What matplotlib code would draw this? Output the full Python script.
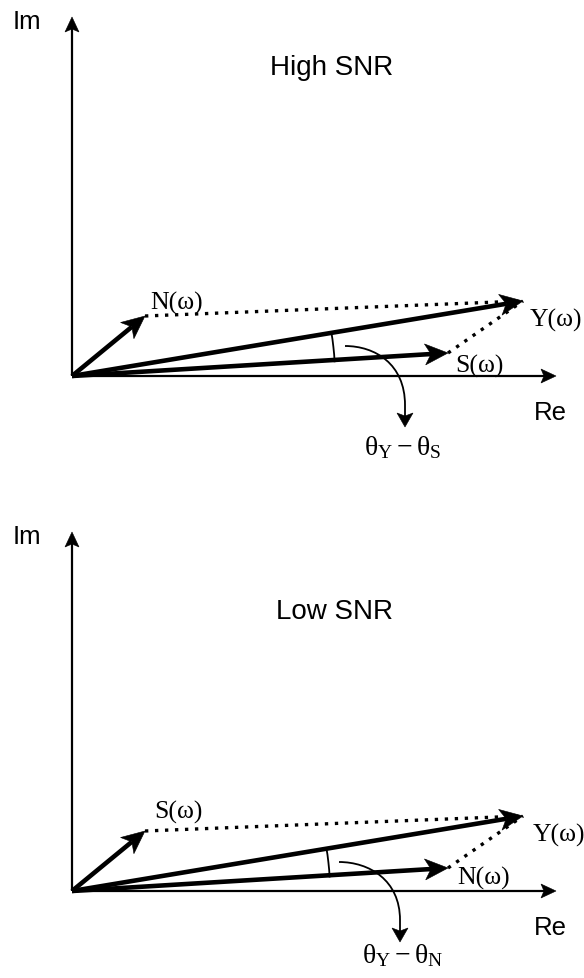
import numpy as np
import matplotlib
matplotlib.use('Agg')
import matplotlib.pyplot as plt
from matplotlib.patches import Polygon, Arc, PathPatch
from matplotlib.path import Path

plt.rcParams['mathtext.fontset'] = 'custom'
plt.rcParams['mathtext.rm'] = 'Liberation Serif'
plt.rcParams['mathtext.it'] = 'Liberation Serif'

# text of the two panels (top: high SNR, bottom: low SNR)
panel_titles = ['High SNR', 'Low SNR']
short_labels = ['N(ω)', 'S(ω)']
long_labels = ['S(ω)', 'N(ω)']
sum_label = 'Y(ω)'
angle_labels = [r'$\theta_Y - \theta_S$', r'$\theta_Y - \theta_N$']

# phasors (Re, Im), same in both panels
short_vec = [73, 60]
long_vec = [376, 23]
sum_vec = [451, 75]

# layout (pixels, y up), one entry per panel
origins = [(72, 602), (72, 87)]
re_len, im_len = 484, 359
title_pos = [(260, 309), (263, 280)]
short_label_pos = [(105, 74), (106, 80)]
long_label_pos = [(407, 11), (412, 14)]
sum_label_pos = [(484, 57), (487, 57)]
angle_label_pos = [(331, -70), (331, -63)]
curve_start = [(273, 30), (267, 29)]
curve_tip = [(333, -51), (328, -51)]
arc_radius = [263, 258]

sans = 'Liberation Sans'
serif = 'Liberation Serif'


def stealth(ax, tip, ang, length, hw, notch, z):
    u = np.array([np.cos(ang), np.sin(ang)])
    p = np.array([-u[1], u[0]])
    tip = np.asarray(tip, float)
    back = tip - length * u
    pts = [tip, back + hw * p, tip - (length - notch) * u, back - hw * p]
    ax.add_patch(Polygon(pts, closed=True, fc='black', ec='black', lw=0.4, zorder=z))
    return tip - (length - notch) * u


def vector(ax, start, end, lw, length, hw, notch, z=3):
    ang = np.arctan2(end[1] - start[1], end[0] - start[0])
    base = stealth(ax, end, ang, length, hw, notch, z)
    ax.plot([start[0], base[0]], [start[1], base[1]], color='black', lw=lw,
            solid_capstyle='butt', zorder=z)


fig = plt.figure(figsize=(5.84, 9.79), dpi=100)
ax = fig.add_axes([0, 0, 1, 1])
ax.set_xlim(0, 584)
ax.set_ylim(0, 979)
ax.set_axis_off()

for i in range(2):
    ox, oy = origins[i]

    def P(v):
        return (ox + v[0], oy + v[1])

    # axes
    vector(ax, (ox, oy), (ox + re_len, oy), 1.6, 15, 7, 3, z=2)
    vector(ax, (ox, oy), (ox, oy + im_len), 1.6, 15, 7, 3, z=2)
    ax.text(ox - 45, oy + im_len - 4, 'Im', fontsize=18.5, family=sans, ha='center', va='center')
    ax.text(*P((478, -36)), 'Re', fontsize=18.5, family=sans, ha='center', va='center')
    ax.text(*P(title_pos[i]), panel_titles[i], fontsize=20, family=sans, ha='center', va='center')

    # dotted completion lines
    for v in (short_vec, long_vec):
        a, b = P(v), P(sum_vec)
        ax.plot([a[0], b[0]], [a[1], b[1]], color='black', lw=2.4,
                linestyle=(0, (1, 2)), dash_capstyle='butt', zorder=1)

    # phasors
    for v in (short_vec, long_vec, sum_vec):
        vector(ax, (ox, oy), P(v), 3.3, 23, 10.5, 6, z=3)

    ax.text(*P(short_label_pos[i]), short_labels[i], fontsize=18.5, family=serif, ha='center', va='center')
    ax.text(*P(long_label_pos[i]), long_labels[i], fontsize=18.5, family=serif, ha='center', va='center')
    ax.text(*P(sum_label_pos[i]), sum_label, fontsize=18.5, family=serif, ha='center', va='center')

    # angle marker
    a1 = np.degrees(np.arctan2(long_vec[1], long_vec[0]))
    a2 = np.degrees(np.arctan2(sum_vec[1], sum_vec[0]))
    r = arc_radius[i]
    ax.add_patch(Arc((ox, oy), 2 * r, 2 * r, theta1=a1 - 0.5, theta2=a2 + 0.3,
                     lw=1.3, color='black', zorder=2))

    # curved pointer to the angle label
    s = P(curve_start[i])
    t = P(curve_tip[i])
    base = stealth(ax, t, -np.pi / 2, 14, 8, 3, 3)
    verts = [s, (s[0] + 30, s[1]), (t[0], s[1] - 18), (t[0], t[1] + 22), (base[0], base[1])]
    codes = [Path.MOVETO, Path.CURVE4, Path.CURVE4, Path.CURVE4, Path.LINETO]
    ax.add_patch(PathPatch(Path(verts, codes), fc='none', ec='black', lw=1.3, zorder=2))
    ax.text(*P(angle_label_pos[i]), angle_labels[i], fontsize=20, ha='center', va='center')

fig.savefig('out.png', dpi=100)
